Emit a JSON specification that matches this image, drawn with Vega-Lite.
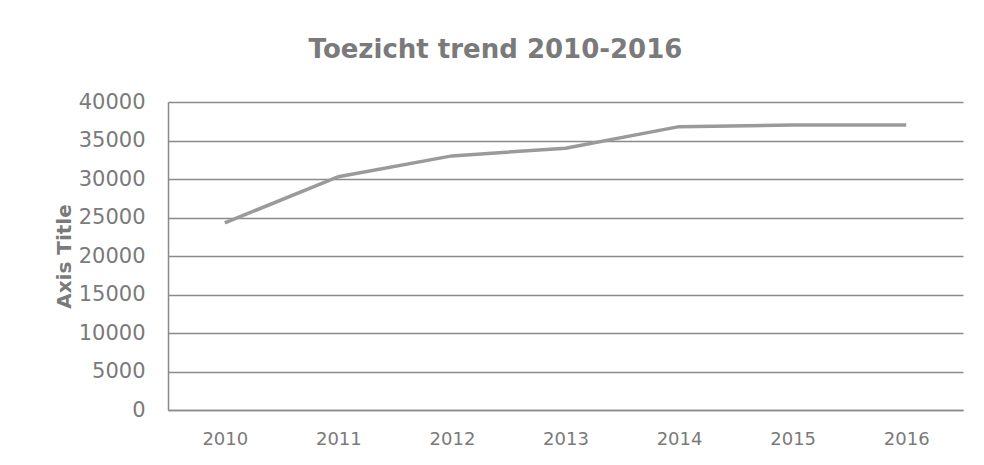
{
  "$schema": "https://vega.github.io/schema/vega-lite/v6.json",
  "width": 795,
  "height": 308,
  "autosize": "none",
  "padding": {"left": 168, "top": 102, "right": 21, "bottom": 55},
  "background": "white",
  "title": {
    "text": "Toezicht trend 2010-2016",
    "font": "DejaVu Sans",
    "fontSize": 26,
    "fontWeight": "bold",
    "color": "#7a7a7a",
    "anchor": "middle",
    "dx": -70,
    "offset": 28
  },
  "data": {
    "values": [
      {"year": "2010", "value": 24300},
      {"year": "2011", "value": 30300},
      {"year": "2012", "value": 33000},
      {"year": "2013", "value": 34000},
      {"year": "2014", "value": 36800},
      {"year": "2015", "value": 37000},
      {"year": "2016", "value": 37000}
    ]
  },
  "mark": {"type": "line", "color": "#9a9a9a", "strokeWidth": 3.5},
  "encoding": {
    "x": {
      "field": "year",
      "type": "ordinal",
      "scale": {"type": "point", "padding": 0.5},
      "axis": {
        "title": null,
        "labelAngle": 0,
        "labelFont": "DejaVu Sans",
        "labelFontSize": 18,
        "labelColor": "#7a7a7a",
        "labelPadding": 20,
        "ticks": false,
        "grid": false,
        "domainColor": "#8a8a8a",
        "domainWidth": 1.5
      }
    },
    "y": {
      "field": "value",
      "type": "quantitative",
      "scale": {"domain": [0, 40000], "nice": false},
      "axis": {
        "title": "Axis Title",
        "titleFont": "DejaVu Sans",
        "titleFontSize": 20,
        "titleFontWeight": "bold",
        "titleColor": "#7a7a7a",
        "titlePadding": 4,
        "values": [0, 5000, 10000, 15000, 20000, 25000, 30000, 35000, 40000],
        "format": "d",
        "labelFont": "DejaVu Sans",
        "labelFontSize": 21,
        "labelColor": "#7a7a7a",
        "labelPadding": 23,
        "ticks": false,
        "grid": true,
        "gridColor": "#8a8a8a",
        "gridWidth": 1.5,
        "domainColor": "#8a8a8a",
        "domainWidth": 1.5
      }
    }
  },
  "config": {
    "view": {"stroke": null}
  }
}
